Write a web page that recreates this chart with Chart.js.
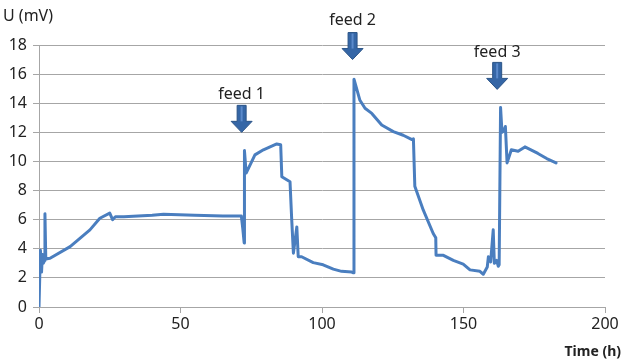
<!DOCTYPE html>
<html>
<head>
<meta charset="utf-8">
<script src="https://cdn.jsdelivr.net/npm/chart.js@4/dist/chart.umd.min.js"></script>
<style>
  html, body { margin: 0; padding: 0; background: #fff; }
  #wrap { width: 623px; height: 362px; }
</style>
</head>
<body>
<div id="wrap"><canvas id="voltageChart" width="623" height="362"></canvas></div>
<script>
const hours = [
  0, 0.5, 0.9, 1.2, 1.5, 2.0, 2.1, 2.4, 3.9, 11, 18, 21.5, 25, 26, 27, 30, 40, 44, 55, 65, 71.5,
  72.0, 72.5, 72.6, 73.2, 76.3, 79.3, 84, 85.4, 85.8, 88.7, 89.3, 89.9, 91.1, 91.6, 92.8, 96.9,
  100.4, 104, 106.9, 110.5, 111.1, 111.3, 113.4, 115.2, 117.6, 121.1, 125.2, 128.7, 131.8, 132.3,
  132.8, 135.8, 139.3, 140.2, 140.3, 142.9, 146.4, 149.9, 152.3, 155.8, 157, 158.4, 158.8, 159.6,
  160.5, 160.9, 161.7, 162.3, 162.6, 163.1, 163.6, 164.2, 164.8, 165.4, 166.9, 169.3, 171.7,
  176.3, 179.4, 182.7
];
const voltage = [
  0, 3.9, 2.4, 3.6, 3.0, 3.2, 6.4, 3.3, 3.35, 4.15, 5.3, 6.1, 6.45, 6.0, 6.2, 6.2, 6.3, 6.37, 6.3, 6.25, 6.25,
  5.4, 4.4, 10.75, 9.2, 10.45, 10.8, 11.2, 11.15, 8.95, 8.6, 6.0, 3.7, 5.5, 3.45, 3.45, 3.05,
  2.9, 2.6, 2.45, 2.4, 2.35, 15.65, 14.2, 13.65, 13.3, 12.5, 12.05, 11.8, 11.5, 11.55,
  8.3, 6.65, 5.05, 4.75, 3.55, 3.55, 3.2, 2.95, 2.55, 2.45, 2.25, 2.75, 3.45, 3.1,
  5.3, 3.0, 3.2, 2.8, 2.9, 13.7, 12.0, 12.1, 12.4, 9.9, 10.8, 10.7, 11.0,
  10.55, 10.2, 9.9
];

// Feed annotations: label, time of the arrow (h), arrow tip and label height (mV)
const feedLabels = ["feed 1", "feed 2", "feed 3"];
const feedHours = [71.6, 110.8, 161.9];
const feedArrowTip = [12.0, 17.0, 14.95];
const feedLabelAt = [14.6, 19.7, 17.5];

const yTicks = [0, 2, 4, 6, 8, 10, 12, 14, 16, 18];
const xTicks = [0, 50, 100, 150, 200];

const FONT = "'Noto Sans', 'Open Sans', sans-serif";
const TEXT = "#222";

const feedArrows = {
  id: "feedArrows",
  afterDatasetsDraw(chart) {
    const { ctx, scales } = chart;
    ctx.save();
    feedLabels.forEach((label, i) => {
      const x = scales.x.getPixelForValue(feedHours[i]);
      const tip = scales.y.getPixelForValue(feedArrowTip[i]);
      const top = tip - 27;
      // arrow body
      ctx.beginPath();
      ctx.moveTo(x - 4.5, top);
      ctx.lineTo(x + 4.5, top);
      ctx.lineTo(x + 4.5, top + 16);
      ctx.lineTo(x + 10.5, top + 16);
      ctx.lineTo(x, tip);
      ctx.lineTo(x - 10.5, top + 16);
      ctx.lineTo(x - 4.5, top + 16);
      ctx.closePath();
      ctx.fillStyle = "#3566A6";
      ctx.fill();
      ctx.strokeStyle = "#2B5487";
      ctx.lineWidth = 1;
      ctx.stroke();
      ctx.fillStyle = "#5B8ACB";
      ctx.fillRect(x - 1, top + 1, 2, 15);

      ctx.fillStyle = TEXT;
      ctx.font = "16px " + FONT;
      ctx.textAlign = "center";
      ctx.textBaseline = "middle";
      ctx.fillText(label, x, scales.y.getPixelForValue(feedLabelAt[i]));
    });

    // axis titles
    ctx.font = "16px " + FONT;
    ctx.textAlign = "left";
    ctx.textBaseline = "middle";
    ctx.fillText("U (mV)", 3, 16);
    ctx.font = "bold 14px " + FONT;
    ctx.textAlign = "right";
    ctx.fillText("Time (h)", 621, 352);
    ctx.restore();
  }
};

new Chart(document.getElementById("voltageChart"), {
  type: "line",
  data: {
    datasets: [{
      data: hours.map((h, i) => ({ x: h, y: voltage[i] })),
      borderColor: "#4A7EBF",
      borderWidth: 3,
      borderJoinStyle: "round",
      borderCapStyle: "round",
      pointRadius: 0,
      tension: 0,
      fill: false
    }]
  },
  options: {
    responsive: false,
    animation: false,
    layout: { padding: { top: 45, right: 18, bottom: 0, left: 0 } },
    plugins: { legend: { display: false }, tooltip: { enabled: false } },
    scales: {
      x: {
        type: "linear",
        min: 0,
        max: 200,
        afterBuildTicks(scale) { scale.ticks = xTicks.map(v => ({ value: v })); },
        afterFit(scale) { scale.height = 55; },
        border: { color: "#a6a6a6", width: 1 },
        grid: { drawOnChartArea: false, drawTicks: true, tickLength: 6, color: "#a6a6a6" },
        ticks: { color: TEXT, font: { family: FONT, size: 16 }, padding: 2, maxRotation: 0 }
      },
      y: {
        min: 0,
        max: 18,
        afterBuildTicks(scale) { scale.ticks = yTicks.map(v => ({ value: v })); },
        afterFit(scale) { scale.width = 39; },
        border: { color: "#a6a6a6", width: 1 },
        grid: { color: "#a6a6a6", tickLength: 6 },
        ticks: { color: TEXT, font: { family: FONT, size: 16 }, padding: 6 }
      }
    }
  },
  plugins: [feedArrows]
});
</script>
</body>
</html>
